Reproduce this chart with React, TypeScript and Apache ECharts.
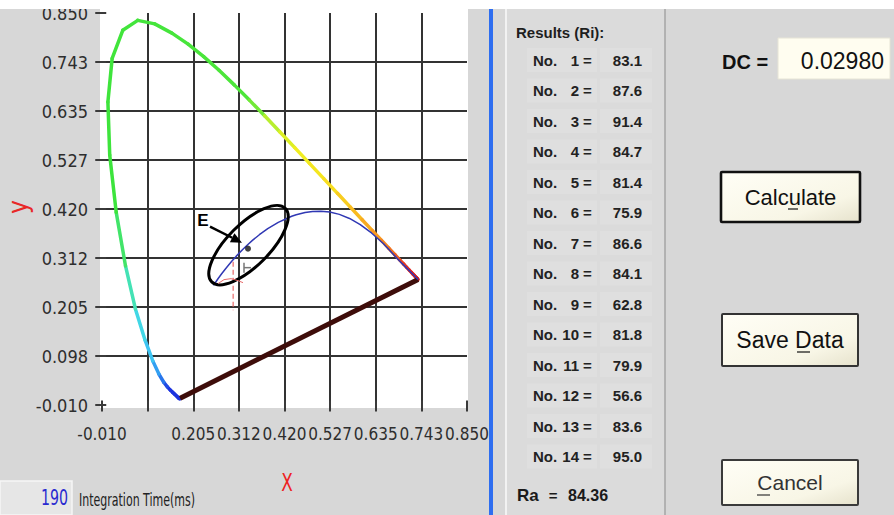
import React, { useEffect, useRef } from 'react';
import * as echarts from 'echarts';

// CIE 1931 spectral locus (wavelength in nm, chromaticity x, y)
const WAVELENGTHS = [380, 385, 390, 395, 400, 405, 410, 415, 420, 425, 430, 435, 440, 445, 450, 455, 460, 465, 470, 475, 480, 485, 490, 495, 500, 505, 510, 515, 520, 525, 530, 535, 540, 545, 550, 555, 560, 565, 570, 575, 580, 585, 590, 595, 600, 605, 610, 615, 620, 625, 630, 635, 640, 645, 650, 655, 660, 665, 670, 680, 700];
const LOCUS_X = [0.1741, 0.1740, 0.1738, 0.1736, 0.1733, 0.1730, 0.1726, 0.1721, 0.1714, 0.1703, 0.1689, 0.1669, 0.1644, 0.1611, 0.1566, 0.1510, 0.1440, 0.1355, 0.1241, 0.1096, 0.0913, 0.0687, 0.0454, 0.0235, 0.0082, 0.0039, 0.0139, 0.0389, 0.0743, 0.1142, 0.1547, 0.1929, 0.2296, 0.2658, 0.3016, 0.3373, 0.3731, 0.4087, 0.4441, 0.4788, 0.5125, 0.5448, 0.5752, 0.6029, 0.6270, 0.6482, 0.6658, 0.6801, 0.6915, 0.7006, 0.7079, 0.7140, 0.7190, 0.7230, 0.7260, 0.7283, 0.7300, 0.7311, 0.7320, 0.7334, 0.7347];
const LOCUS_Y = [0.0050, 0.0050, 0.0049, 0.0049, 0.0048, 0.0048, 0.0048, 0.0048, 0.0051, 0.0058, 0.0069, 0.0086, 0.0109, 0.0138, 0.0177, 0.0227, 0.0297, 0.0399, 0.0578, 0.0868, 0.1327, 0.2007, 0.2950, 0.4127, 0.5384, 0.6548, 0.7502, 0.8120, 0.8338, 0.8262, 0.8059, 0.7816, 0.7543, 0.7243, 0.6923, 0.6589, 0.6245, 0.5896, 0.5547, 0.5202, 0.4866, 0.4544, 0.4242, 0.3965, 0.3725, 0.3514, 0.3340, 0.3197, 0.3083, 0.2993, 0.2920, 0.2859, 0.2809, 0.2770, 0.2740, 0.2717, 0.2700, 0.2689, 0.2680, 0.2666, 0.2653];

// Blackbody (Planckian) locus, from high to low temperature
const PLANCK_X = [0.2525, 0.2565, 0.2637, 0.2719, 0.2807, 0.2869, 0.2952, 0.3064, 0.3135, 0.3221, 0.3325, 0.3451, 0.3608, 0.3805, 0.4053, 0.4369, 0.4476, 0.4685, 0.4862, 0.5056, 0.5267, 0.5493, 0.5732, 0.5985, 0.6250, 0.6528, 0.6900, 0.7050, 0.7190, 0.7347];
const PLANCK_Y = [0.2523, 0.2577, 0.2675, 0.2778, 0.2884, 0.2956, 0.3048, 0.3166, 0.3237, 0.3318, 0.3411, 0.3516, 0.3636, 0.3768, 0.3907, 0.4041, 0.4074, 0.4123, 0.4147, 0.4152, 0.4133, 0.4082, 0.3993, 0.3858, 0.3674, 0.3444, 0.3070, 0.2930, 0.2800, 0.2653];

// Measured point (E) and the red marker line below it
const POINT_E = [0.334, 0.333];
const MARK_X = [0.299, 0.299];
const MARK_Y = [0.304, 0.198];

const TICK_VALUES = [-0.01, 0.0975, 0.205, 0.3125, 0.42, 0.5275, 0.635, 0.7425, 0.85];
const X_TICK_LABELS = ['-0.010', '', '0.205', '0.312', '0.420', '0.527', '0.635', '0.743', '0.850'];
const Y_TICK_LABELS = ['-0.010', '0.098', '0.205', '0.312', '0.420', '0.527', '0.635', '0.743', '0.850'];

const RESULT_NUMBERS = [1, 2, 3, 4, 5, 6, 7, 8, 9, 10, 11, 12, 13, 14];
const RESULT_VALUES = ['83.1', '87.6', '91.4', '84.7', '81.4', '75.9', '86.6', '84.1', '62.8', '81.8', '79.9', '56.6', '83.6', '95.0'];
const RA_VALUE = '84.36';
const DC_VALUE = '0.02980';
const INTEGRATION_TIME = '190';

const COLOR_STOPS: [number, string][] = [
  [380, '#1c2cd4'], [460, '#1c34e0'], [470, '#2c8cf0'], [478, '#3ec8f2'], [485, '#44e0e0'],
  [491, '#44e478'], [497, '#3ce43c'], [555, '#4ee63a'], [562, '#b4ee30'], [570, '#eef020'],
  [582, '#f8e020'], [592, '#f8bc20'], [602, '#f89c20'], [614, '#f06c20'], [626, '#e83a20'],
  [640, '#e02020'], [700, '#cc1a1a'],
];

const FONT_UI = "'Liberation Sans', Arial, sans-serif";
const FONT_NARROW = "'DejaVu Sans Condensed', 'Liberation Sans', sans-serif";

function hexToRgb(h: string) {
  return [parseInt(h.slice(1, 3), 16), parseInt(h.slice(3, 5), 16), parseInt(h.slice(5, 7), 16)];
}
function colorAt(w: number) {
  for (let i = 0; i < COLOR_STOPS.length - 1; i++) {
    const [w0, c0] = COLOR_STOPS[i];
    const [w1, c1] = COLOR_STOPS[i + 1];
    if (w >= w0 && w <= w1) {
      const t = (w - w0) / (w1 - w0);
      const a = hexToRgb(c0), b = hexToRgb(c1);
      const r = a.map((v, k) => Math.round(v + (b[k] - v) * t));
      return `rgb(${r[0]},${r[1]},${r[2]})`;
    }
  }
  return COLOR_STOPS[COLOR_STOPS.length - 1][1];
}

function tickIndex(v: number) {
  return Math.round((v + 0.01) / 0.1075);
}

function txt(x: number, y: number, text: string, font: string, fill: string, align = 'left', extra: any = {}) {
  return {
    type: 'text', x, y, z: 60, silent: true,
    style: { text, font, fill, align, verticalAlign: 'middle', textAlign: align, textVerticalAlign: 'middle' },
    ...extra,
  };
}

function buildStaticGraphics() {
  const g: any[] = [];
  // top white strip
  g.push({ type: 'rect', z: 100, shape: { x: 0, y: 0, width: 894, height: 9 }, style: { fill: '#ffffff' } });
  // plot white area
  g.push({ type: 'rect', z: -10, shape: { x: 100, y: 9, width: 368, height: 399 }, style: { fill: '#ffffff' } });
  // blue separator
  g.push({ type: 'rect', z: 20, shape: { x: 489, y: 9, width: 4, height: 506 }, style: { fill: '#2e6ef0' } });
  // results panel
  g.push({ type: 'rect', z: -10, shape: { x: 505, y: 9, width: 160, height: 506 }, style: { fill: '#dbdbdb' } });
  g.push({ type: 'line', z: -9, shape: { x1: 506, y1: 9, x2: 506, y2: 515 }, style: { stroke: '#f2f2f2', lineWidth: 2 } });
  g.push({ type: 'line', z: -9, shape: { x1: 665, y1: 9, x2: 665, y2: 515 }, style: { stroke: '#a4a4a4', lineWidth: 1.5 } });

  g.push(txt(516, 32, 'Results (Ri):', `bold 15px ${FONT_UI}`, '#1e1e1e'));
  RESULT_NUMBERS.forEach((n, i) => {
    const y = 60 + i * 30.5;
    g.push({ type: 'rect', z: -8, shape: { x: 527, y: y - 12, width: 70, height: 24 }, style: { fill: '#dfdfdf' } });
    g.push({ type: 'rect', z: -8, shape: { x: 600, y: y - 12, width: 52, height: 24 }, style: { fill: '#dfdfdf' } });
    g.push(txt(533, y, 'No.', `bold 15px ${FONT_UI}`, '#222'));
    g.push(txt(579, y, String(n), `bold 15px ${FONT_UI}`, '#222', 'right'));
    g.push(txt(583, y, '=', `bold 15px ${FONT_UI}`, '#222'));
    g.push(txt(642, y, RESULT_VALUES[i], `bold 15px ${FONT_UI}`, '#222', 'right'));
  });
  g.push(txt(517, 495, 'Ra', `bold 17px ${FONT_UI}`, '#1a1a1a'));
  g.push(txt(553, 495, '=', `bold 15px ${FONT_UI}`, '#1a1a1a', 'center'));
  g.push(txt(568, 495, RA_VALUE, `bold 16px ${FONT_UI}`, '#1a1a1a'));

  // DC
  g.push(txt(722, 62, 'DC =', `bold 20px ${FONT_UI}`, '#111'));
  g.push({ type: 'rect', z: 10, shape: { x: 778, y: 38, width: 112, height: 41 }, style: { fill: '#fffdf0', stroke: '#e6e4d6', lineWidth: 1 } });
  g.push(txt(884, 61, DC_VALUE, `23px ${FONT_UI}`, '#111', 'right'));

  const btnFill = { type: 'linear', x: 0, y: 0, x2: 1, y2: 1, colorStops: [{ offset: 0, color: '#fffef6' }, { offset: 0.7, color: '#f8f6e6' }, { offset: 1, color: '#e6e2cc' }] };
  const buttons = [
    { x: 721, y: 172, w: 139, h: 50, label: 'Calculate', size: 22, color: '#111', lw: 2.6, stroke: '#111', ul: [788, 798, 209] },
    { x: 722, y: 314, w: 136, h: 52, label: 'Save Data', size: 23, color: '#111', lw: 2, stroke: '#333', ul: [797, 810, 352] },
    { x: 722, y: 460, w: 136, h: 45, label: 'Cancel', size: 21, color: '#333', lw: 2, stroke: '#3a3a3a', ul: [757, 770, 495] },
  ];
  buttons.forEach((b) => {
    g.push({ type: 'rect', z: 10, shape: { x: b.x, y: b.y, width: b.w, height: b.h, r: 1 }, style: { fill: btnFill, stroke: b.stroke, lineWidth: b.lw } });
    g.push(txt(b.x + b.w / 2, b.y + b.h / 2, b.label, `${b.size}px ${FONT_UI}`, b.color, 'center'));
    g.push({ type: 'line', z: 61, shape: { x1: b.ul[0], y1: b.ul[2], x2: b.ul[1], y2: b.ul[2] }, style: { stroke: b.color, lineWidth: 1.2 } });
  });

  // integration time box
  g.push({ type: 'rect', z: 10, shape: { x: 0, y: 481, width: 72, height: 34 }, style: { fill: '#e6e6e6', stroke: '#f6f6f6', lineWidth: 1.5 } });
  g.push(txt(68, 498, INTEGRATION_TIME, `21px ${FONT_NARROW}`, '#2a2ad0', 'right', { scaleX: 0.75 }));
  g.push(txt(79, 500, 'Integration Time(ms)', `17px ${FONT_NARROW}`, '#222', 'left', { scaleX: 0.72 }));

  // axis names
  g.push(txt(18, 207, 'y', `26px ${FONT_NARROW}`, '#e82828', 'center', { rotation: Math.PI / 2 }));
  g.push(txt(287, 482, 'X', `25px ${FONT_NARROW}`, '#ee2222', 'center', { scaleX: 0.75 }));
  return g;
}

function buildAnnotations(p: number[]) {
  const [px, py] = p;
  return [
    { type: 'ellipse', z: 50, x: px + 0.5, y: py - 3.5, rotation: Math.PI / 4, shape: { cx: 0, cy: 0, rx: 52, ry: 21 }, style: { fill: 'none', stroke: '#000', lineWidth: 3 } },
    { type: 'line', z: 50, shape: { x1: px - 38, y1: py - 22, x2: px - 15.8, y2: py - 10.9 }, style: { stroke: '#000', lineWidth: 2.5 } },
    { type: 'polygon', z: 50, shape: { points: [[px - 6, py - 6], [px - 18.1, py - 6.4], [px - 13.6, py - 15.4]] }, style: { fill: '#000' } },
    txt(px - 45, py - 28, 'E', `bold 17px ${FONT_UI}`, '#000', 'center'),
    { type: 'polyline', z: 50, shape: { points: [[px - 4, py + 14], [px - 4, py + 24]] }, style: { stroke: '#777', lineWidth: 1.5, fill: 'none' } },
    { type: 'polyline', z: 50, shape: { points: [[px - 4, py + 19], [px + 3, py + 19]] }, style: { stroke: '#777', lineWidth: 1.5, fill: 'none' } },
    { type: 'polyline', z: 50, shape: { points: [[px - 30, py + 35], [px - 24, py + 31], [px - 17, py + 30], [px - 10, py + 32], [px - 5, py + 34]] }, style: { stroke: '#e86a6a', lineWidth: 1, fill: 'none' } },
  ];
}

export default function App() {
  const ref = useRef<HTMLDivElement>(null);
  useEffect(() => {
    if (!ref.current) return;
    const chart = echarts.init(ref.current, null, { renderer: 'svg' });

    const segments = [];
    for (let i = 0; i < WAVELENGTHS.length - 1; i++) {
      segments.push({
        coords: [[LOCUS_X[i], LOCUS_Y[i]], [LOCUS_X[i + 1], LOCUS_Y[i + 1]]],
        lineStyle: { color: colorAt((WAVELENGTHS[i] + WAVELENGTHS[i + 1]) / 2) },
      });
    }
    const last = WAVELENGTHS.length - 1;
    const purple = [[LOCUS_X[0], LOCUS_Y[0]], [LOCUS_X[last], LOCUS_Y[last]]];
    const planck = PLANCK_X.map((x, i) => [x, PLANCK_Y[i]]);
    const mark = MARK_X.map((x, i) => [x, MARK_Y[i]]);

    const axisCommon = {
      type: 'value',
      min: -0.01,
      max: 0.85,
      axisLine: { show: false },
      axisTick: { show: true, customValues: TICK_VALUES, length: 11, lineStyle: { color: '#3a3a3a', width: 2 } },
      splitLine: { show: true, showMinLine: false, showMaxLine: false, lineStyle: { color: '#333333', width: 2 } },
    };

    chart.setOption({
      animation: false,
      backgroundColor: '#d7d7d7',
      grid: { left: 102, right: 427, top: 13, bottom: 110, containLabel: false },
      xAxis: {
        ...axisCommon,
        axisLabel: {
          customValues: TICK_VALUES, margin: 20, color: '#2e2e2e', fontSize: 17, fontFamily: FONT_NARROW,
          showMinLabel: true, showMaxLabel: true, hideOverlap: false,
          formatter: (v: number) => X_TICK_LABELS[tickIndex(v)] ?? '',
        },
      },
      yAxis: {
        ...axisCommon,
        axisLabel: {
          customValues: TICK_VALUES, margin: 14, color: '#2e2e2e', fontSize: 18, fontFamily: FONT_NARROW,
          showMinLabel: true, showMaxLabel: true,
          formatter: (v: number) => Y_TICK_LABELS[tickIndex(v)] ?? '',
        },
      },
      series: [
        { type: 'lines', coordinateSystem: 'cartesian2d', polyline: false, silent: true, z: 3, data: segments, lineStyle: { width: 3.5, cap: 'round', join: 'round', opacity: 1, curveness: 0 } },
        { type: 'line', data: purple, symbol: 'none', silent: true, z: 4, lineStyle: { color: '#3e0d0a', width: 5 } },
        { type: 'line', data: planck, symbol: 'none', silent: true, z: 5, lineStyle: { color: '#3038b4', width: 1.5 } },
        { type: 'line', data: mark, symbol: 'none', silent: true, z: 5, lineStyle: { color: '#e86a6a', width: 1.2, type: [5, 3] } },
        { type: 'scatter', data: [POINT_E], symbolSize: 6, silent: true, z: 6, itemStyle: { color: '#111' } },
      ],
      graphic: buildStaticGraphics(),
    });

    const p = chart.convertToPixel({ gridIndex: 0 }, POINT_E) as number[];
    chart.setOption({ graphic: [...buildStaticGraphics(), ...buildAnnotations(p)] });

    return () => chart.dispose();
  }, []);

  return <div ref={ref} style={{ position: 'fixed', left: 0, top: 0, width: 894, height: 515 }} />;
}
